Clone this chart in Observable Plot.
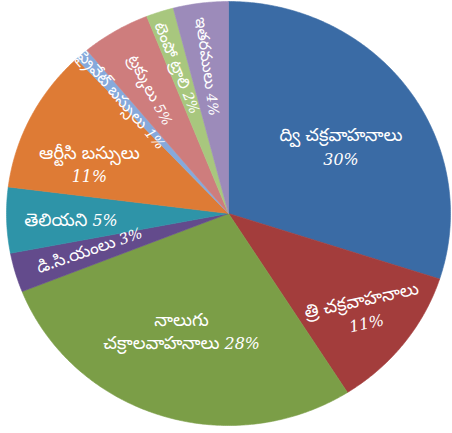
<!DOCTYPE html>
<html>
<head>
<meta charset="utf-8">
<script src="https://cdn.jsdelivr.net/npm/d3@7"></script>
<script src="https://cdn.jsdelivr.net/npm/@observablehq/plot@0.6"></script>
<style>
  html, body { margin: 0; padding: 0; background: #ffffff; }
  #chart { width: 452px; height: 433px; overflow: hidden; }
  .pct { font-family: "DejaVu Serif", "Liberation Serif", serif; font-style: italic; font-size: 0.88em; }
</style>
</head>
<body>
<div id="chart"></div>
<script>
// ---- data ----
const categories = ["ద్వి చక్రవాహనాలు", "త్రి చక్రవాహనాలు", "నాలుగు చక్రాలవాహనాలు", "డి.సి.యంలు", "తెలియని", "ఆర్టీసి బస్సులు", "ప్రైవేట్ బస్సులు", "ట్రక్కులు", "టెంపో ట్రాలి", "ఇతరములు"];
const values = [30, 11, 28, 3, 5, 11, 1, 5, 2, 4];
const labelTexts = [
  "ద్వి చక్రవాహనాలు\n30%",
  "త్రి చక్రవాహనాలు\n11%",
  "నాలుగు\nచక్రాలవాహనాలు 28%",
  "డి.సి.యంలు 3%",
  "తెలియని 5%",
  "ఆర్టీసి బస్సులు\n11%",
  "ప్రైవేట్ బస్సులు 1%",
  "ట్రక్కులు 5%",
  "టెంపో ట్రాలి 2%",
  "ఇతరములు 4%"
];
const colors = ["#3A6BA5", "#A33D3C", "#7B9E47", "#634B8C", "#2E94A8", "#DE7B35", "#86A9DB", "#CE7D7D", "#A8C77E", "#9C8BBA"];

// ---- label layout (radius fraction, angle nudge in degrees, rotation, font size) ----
const labelLayout = [
  {r: 0.60, dA: 3.6, rot: 0, size: 18},
  {r: 0.76, dA: -1, rot: -12, size: 18},
  {r: 0.59, dA: 3, rot: 0, size: 18},
  {r: 0.65, dA: 1.5, rot: -19, size: 17},
  {r: 0.71, dA: 0, rot: 0, size: 18},
  {r: 0.67, dA: -6.3, rot: 0, size: 18},
  {r: 0.72, dA: 0, rot: 49, size: 16},
  {r: 0.68, dA: 0, rot: 62, size: 16},
  {r: 0.725, dA: 0, rot: 68, size: 16},
  {r: 0.70, dA: 0, rot: 82, size: 16}
];

// ---- build wedges from the data ----
const total = d3.sum(values);
const wedgePts = [];
const labels = [];
let cum = 0;
values.forEach((v, i) => {
  const a0 = cum / total * 2 * Math.PI;
  const a1 = (cum + v) / total * 2 * Math.PI;
  cum += v;
  const n = Math.max(2, Math.ceil((a1 - a0) / (Math.PI / 360)));
  wedgePts.push({name: categories[i], u: 0, v: 0});
  for (let k = 0; k <= n; k++) {
    const a = a0 + (a1 - a0) * k / n;
    wedgePts.push({name: categories[i], u: Math.sin(a), v: Math.cos(a)});
  }
  wedgePts.push({name: categories[i], u: 0, v: 0});
  const L = labelLayout[i];
  const am = (a0 + a1) / 2 + L.dA * Math.PI / 180;
  labels.push({text: labelTexts[i], u: L.r * Math.sin(am), v: L.r * Math.cos(am), rot: L.rot, size: L.size});
});

const teluguFont = '"Noto Sans Telugu", "Noto Serif Telugu", "Lohit Telugu", "Pothana2000", "Vemana2000", "Gurajada", "Mallanna", "Noto Sans", sans-serif';

const plot = Plot.plot({
  width: 452,
  height: 433,
  marginLeft: 6,
  marginRight: 2,
  marginTop: 1,
  marginBottom: 8,
  x: {domain: [-1, 1], axis: null},
  y: {domain: [-1, 1], axis: null},
  color: {type: "ordinal", domain: categories, range: colors},
  style: {background: "#ffffff", overflow: "visible"},
  marks: [
    Plot.line(wedgePts, {x: "u", y: "v", z: "name", fill: "name", stroke: "name", strokeWidth: 0.6, curve: "linear"}),
    Plot.text(labels, {
      x: "u", y: "v", text: "text", rotate: "rot", fontSize: "size",
      fill: "white", lineHeight: 1.3, textAnchor: "middle", lineAnchor: "middle",
      fontFamily: teluguFont
    })
  ]
});

document.getElementById("chart").appendChild(plot);

// italicize the percentages
d3.select(plot).selectAll("text").each(function() {
  const el = this;
  const targets = el.querySelectorAll("tspan").length ? Array.from(el.querySelectorAll("tspan")) : [el];
  targets.forEach(t => {
    const s = t.textContent;
    const m = s.match(/^(.*?)(\d+%)$/);
    if (!m) return;
    t.textContent = "";
    if (m[1]) t.appendChild(document.createTextNode(m[1]));
    const p = document.createElementNS("http://www.w3.org/2000/svg", "tspan");
    p.setAttribute("class", "pct");
    p.textContent = m[2];
    t.appendChild(p);
  });
});
</script>
</body>
</html>
